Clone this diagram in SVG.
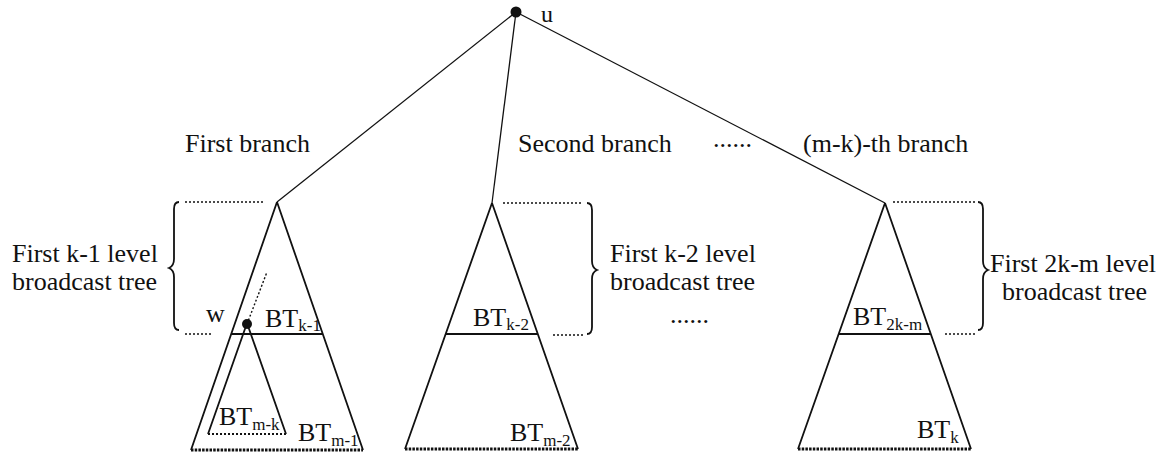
<svg xmlns="http://www.w3.org/2000/svg" width="1175" height="457" viewBox="0 0 1175 457">
<style>
text{font-family:"Liberation Serif","Times New Roman",serif;font-size:26px;fill:#111}
.sub{font-size:17px}
.edge{stroke:#111;stroke-width:1.3;fill:none}
.tri{stroke:#111;stroke-width:1.8;fill:none}
.dot{stroke:#111;stroke-width:1.4;stroke-dasharray:2 2;fill:none}
.base{stroke:#111;stroke-width:3;stroke-dasharray:2.5 1.2;fill:none}
.brace{stroke:#111;stroke-width:1.8;fill:none}
</style>
<rect width="1175" height="457" fill="#fff"/>
<g id="connectors">
<line class="edge" x1="516" y1="12" x2="277" y2="202"/>
<line class="edge" x1="516" y1="12" x2="492" y2="203"/>
<line class="edge" x1="516" y1="12" x2="885" y2="203"/>
</g>
<g id="root">
<circle cx="516" cy="12" r="5.5" fill="#111"/>
<text x="541" y="22" style="font-size:24px">u</text>
</g>
<g id="labels">
<text x="185" y="152">First branch</text>
<text x="518" y="152">Second branch</text>
<text x="713" y="147">......</text>
<text x="803" y="152">(m-k)-th branch</text>
</g>
<g id="branch1">
<path class="tri" d="M277,202 L191,450 M277,202 L363,450 M231,334 L323,334"/>
<line class="base" x1="191" y1="450" x2="363" y2="450"/>
<path class="dot" d="M185,202 H263 M185,334 H213"/>
<path class="brace" d="M179,202 Q174,202 174,209 L174,259 Q174,266 169,268 Q174,270 174,277 L174,323 Q174,330 179,330"/>
<text x="12" y="262">First k-1 level</text>
<text x="12" y="290">broadcast tree</text>
<text x="206" y="322">w</text>
<text x="265" y="327">BT<tspan class="sub" dy="4">k-1</tspan></text>
<text x="298" y="441">BT<tspan class="sub" dy="5">m-1</tspan></text>
</g>
<g id="subtree-w">
<path class="dot" d="M247,324 L267,272"/>
<path class="tri" d="M246,326 L208,434 M248,326 L286,434"/>
<line class="dot" x1="208" y1="434" x2="286" y2="434" style="stroke-width:2"/>
<circle cx="247" cy="324" r="5" fill="#111"/>
<text x="219" y="425">BT<tspan class="sub" dy="5">m-k</tspan></text>
</g>
<g id="branch2">
<path class="tri" d="M492,203 L405,449 M492,203 L578,449 M446,334 L538,334"/>
<line class="base" x1="405" y1="449" x2="578" y2="449"/>
<path class="dot" d="M503,203 H583 M553,335 H585"/>
<path class="brace" d="M587,203 Q592,203 592,210 L592,261 Q592,268 597,270 Q592,272 592,279 L592,327 Q592,334 587,334"/>
<text x="610" y="262">First k-2 level</text>
<text x="610" y="290">broadcast tree</text>
<text x="670" y="323">......</text>
<text x="473" y="326">BT<tspan class="sub" dy="4">k-2</tspan></text>
<text x="510" y="441">BT<tspan class="sub" dy="5">m-2</tspan></text>
</g>
<g id="branch3">
<path class="tri" d="M885,203 L798,449 M885,203 L971,449 M839,334 L931,334"/>
<line class="base" x1="798" y1="449" x2="971" y2="449"/>
<path class="dot" d="M893,202 H977 M945,334 H975"/>
<path class="brace" d="M978,202 Q983,202 983,209 L983,261 Q983,268 988,270 Q983,272 983,279 L983,323 Q983,330 978,330"/>
<text x="990" y="272">First 2k-m level</text>
<text x="1002" y="300">broadcast tree</text>
<text x="853" y="325">BT<tspan class="sub" dy="5">2k-m</tspan></text>
<text x="917" y="438">BT<tspan class="sub" dy="5">k</tspan></text>
</g>
</svg>
